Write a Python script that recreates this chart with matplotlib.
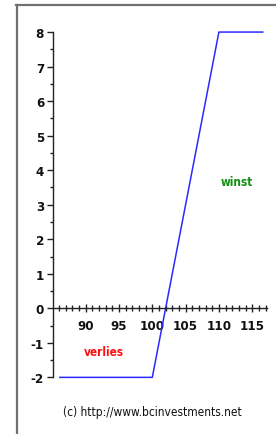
import matplotlib
matplotlib.use("Agg")
import matplotlib.pyplot as plt
from matplotlib.lines import Line2D
from matplotlib.ticker import FixedLocator
import numpy as np

# Data: payoff of a call spread
price = [86, 100, 110, 116.7]
payoff = [-2, -2, 8, 8]
xticks = [90, 95, 100, 105, 110, 115]
yticks = [-2, -1, 0, 1, 2, 3, 4, 5, 6, 7, 8]
ytick_labels = ['-2', '-1', '0', '1', '2', '3', '4', '5', '6', '7', '8']

fig = plt.figure(figsize=(2.76, 4.35), dpi=100)
fig.patch.set_facecolor('white')
ax = fig.add_axes([0, 0, 1, 1])
ax.patch.set_alpha(0)

# pixel mapping
x0px, ux = 85.7, 6.66
y0px, uy = 309.3, 34.53
ax.set_xlim(90 - x0px / ux, 90 + (276 - x0px) / ux)
ax.set_ylim(-(435 - y0px) / uy, y0px / uy)

ax.plot(price, payoff, color='#2a2aff', lw=1.1, solid_capstyle='butt')

for s in ['top', 'right']:
    ax.spines[s].set_visible(False)
ax.spines['bottom'].set_position(('data', 0))
ax.spines['left'].set_position(('data', 85.1))
ax.spines['bottom'].set_bounds(85.1, 117.2)
ax.spines['left'].set_bounds(-2, 8)
for s in ['bottom', 'left']:
    ax.spines[s].set_color('#222222')
    ax.spines[s].set_linewidth(1.0)

ax.set_xticks(xticks)
ax.set_yticks(yticks)
ax.xaxis.set_minor_locator(FixedLocator(np.arange(86, 118, 1)))
ax.yaxis.set_minor_locator(FixedLocator(np.arange(-1.5, 8, 1.0)))
ax.tick_params(axis='x', which='major', direction='inout', length=6, width=1, colors='#222222', pad=5)
ax.tick_params(axis='x', which='minor', direction='inout', length=4, width=1, colors='#222222')
ax.tick_params(axis='y', which='major', direction='out', length=4, width=1, colors='#222222', pad=2.5)
ax.tick_params(axis='y', which='minor', direction='out', length=2, width=1, colors='#222222')

fp = dict(family='DejaVu Sans', stretch='condensed', fontsize=9.5, fontweight='bold')
ax.set_xticklabels([str(v) for v in xticks], color='#111111', **fp)
ax.set_yticklabels(ytick_labels, color='#111111', **fp)

tp = dict(family='DejaVu Sans', stretch='condensed', fontsize=8.5, fontweight='bold')
ax.text(90 + (237 - x0px) / ux, (y0px - 183) / uy, 'winst', color='#109010',
        ha='center', va='center', **tp)
ax.text(90 + (103.5 - x0px) / ux, (y0px - 352) / uy, 'verlies', color='#ff1010',
        ha='center', va='center', **tp)
ax.text(90 + (152 - x0px) / ux, (y0px - 413) / uy, '(c) http://www.bcinvestments.net',
        color='#111111', ha='center', va='center', family='DejaVu Sans', stretch='condensed',
        fontsize=8.6)

# frame lines (gray) at top and left
fig.add_artist(Line2D([16 / 276, 1], [1 - 6 / 435, 1 - 6 / 435], color='#707070', lw=1.6,
                      transform=fig.transFigure))
fig.add_artist(Line2D([17 / 276, 17 / 276], [1 - 6 / 435, 0], color='#707070', lw=1.6,
                      transform=fig.transFigure))

fig.savefig('out.png', dpi=100)
